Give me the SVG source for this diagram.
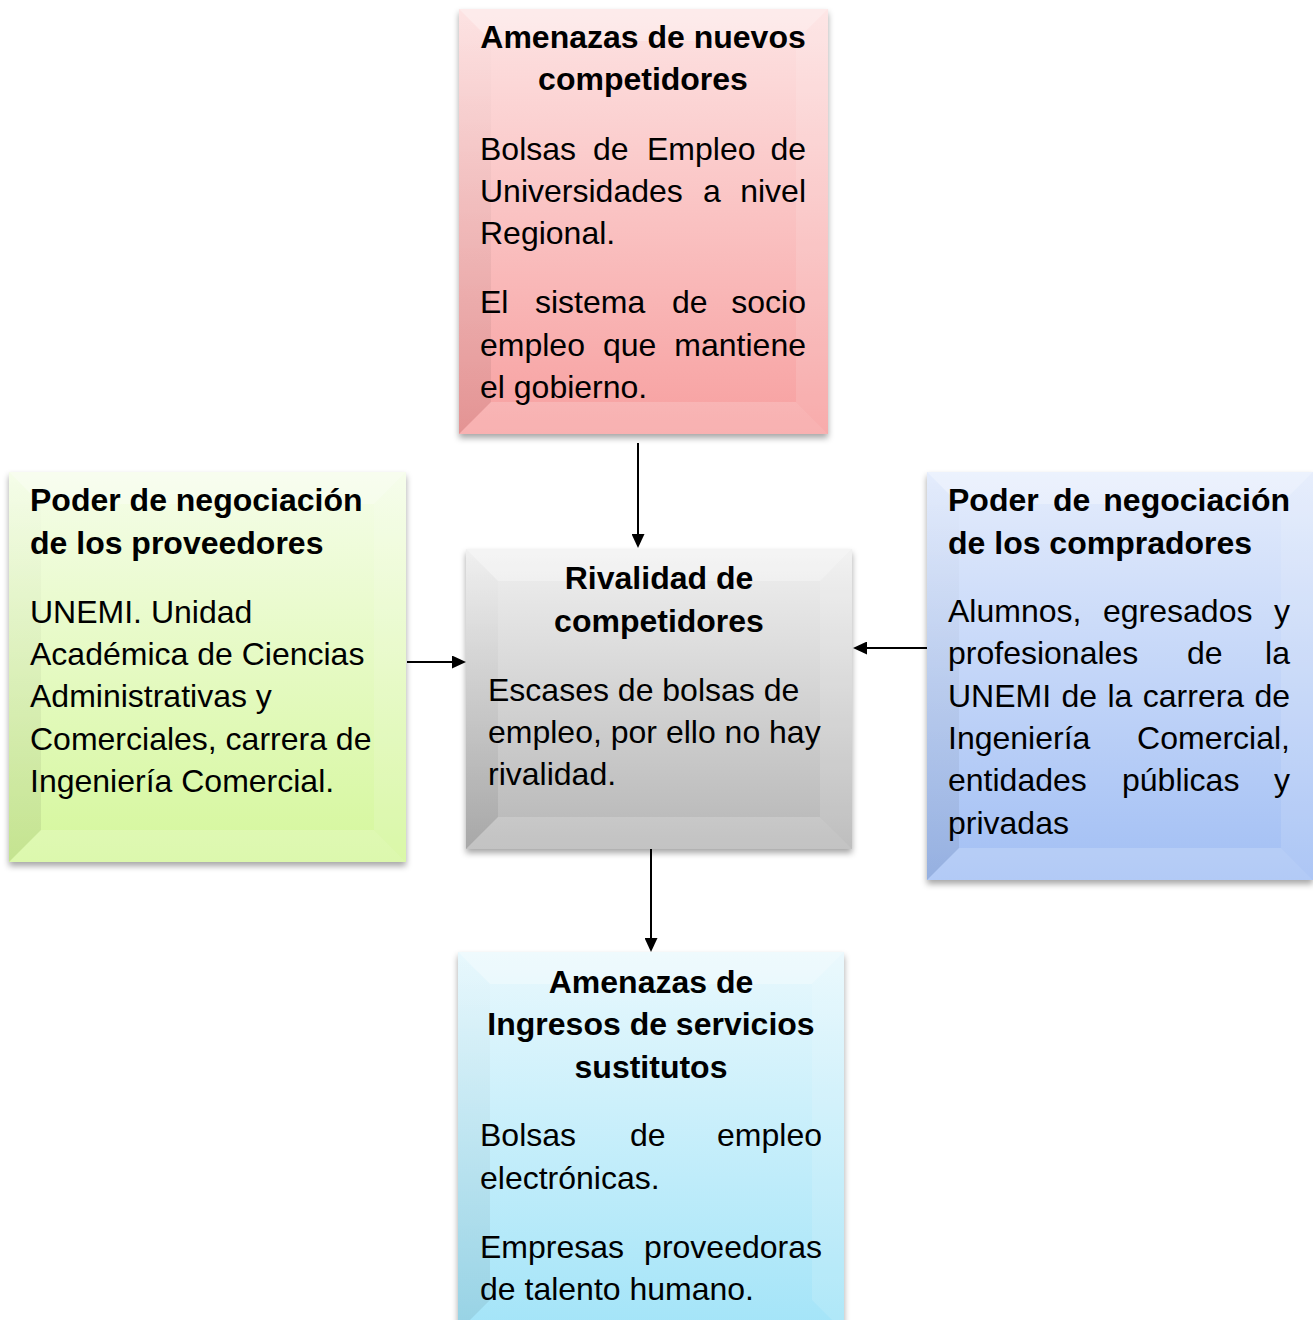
<svg xmlns="http://www.w3.org/2000/svg" width="1313" height="1320" viewBox="0 0 1313 1320">
<defs>
<linearGradient id="gRed" x1="0" y1="0" x2="0" y2="1"><stop offset="0" stop-color="#fde3e3"/><stop offset="1" stop-color="#f7a0a0"/></linearGradient>
<linearGradient id="gGreen" x1="0" y1="0" x2="0" y2="1"><stop offset="0" stop-color="#f5fde9"/><stop offset="1" stop-color="#d5f79c"/></linearGradient>
<linearGradient id="gGray" x1="0" y1="0" x2="0" y2="1"><stop offset="0" stop-color="#f0f0f0"/><stop offset="1" stop-color="#b6b6b6"/></linearGradient>
<linearGradient id="gBlue" x1="0" y1="0" x2="0" y2="1"><stop offset="0" stop-color="#e4ecfc"/><stop offset="1" stop-color="#a2bff4"/></linearGradient>
<linearGradient id="gCyan" x1="0" y1="0" x2="0" y2="1"><stop offset="0" stop-color="#e8f8fd"/><stop offset="1" stop-color="#a3e4f8"/></linearGradient>
<linearGradient id="gLeft" x1="0" y1="0" x2="0" y2="1"><stop offset="0" stop-color="#000" stop-opacity="0"/><stop offset="1" stop-color="#000" stop-opacity="0.08"/></linearGradient>
<filter id="shadow" x="-5%" y="-5%" width="110%" height="112%">
<feDropShadow dx="0" dy="4" stdDeviation="3" flood-color="#000" flood-opacity="0.35"/>
</filter>
<marker id="arrow" viewBox="0 0 14 13" refX="4" refY="6.5" markerWidth="14" markerHeight="13" markerUnits="userSpaceOnUse" orient="auto">
<path d="M0,0 L14,6.5 L0,13 Z" fill="#000"/>
</marker>
</defs>
<style>
.box{filter:url(#shadow);}
.bt{fill:#fff;fill-opacity:0.3;}
.bl{fill:url(#gLeft);}
.br{fill:#fff;fill-opacity:0.12;}
.bb{fill:#fff;fill-opacity:0.18;}
text{font-family:"Liberation Sans",Arial,sans-serif;font-size:32px;fill:#000;}
.h{font-weight:bold;}
.c{text-anchor:middle;}
.e{text-anchor:end;}
.conn{stroke:#000;stroke-width:2;fill:none;marker-end:url(#arrow);}
</style>

<g id="connectors">
<line class="conn" x1="638" y1="443" x2="638" y2="538"/>
<line class="conn" x1="407" y1="662" x2="456" y2="662"/>
<line class="conn" x1="927" y1="648" x2="863" y2="648"/>
<line class="conn" x1="651" y1="849" x2="651" y2="942"/>
</g>

<g id="node-nuevos">
<rect class="box" x="459" y="9" width="369" height="425" fill="url(#gRed)"/>
<polygon class="bt" points="459,9 828,9 796,41 491,41"/>
<polygon class="bl" points="459,9 491,41 491,402 459,434"/>
<polygon class="br" points="828,9 828,434 796,402 796,41"/>
<polygon class="bb" points="459,434 491,402 796,402 828,434"/>
<text class="h c" x="643" y="48">Amenazas de nuevos</text>
<text class="h c" x="643" y="90">competidores</text>
<text x="480" y="160">Bolsas</text><text x="593" y="160">de</text><text x="647" y="160">Empleo</text><text class="e" x="806" y="160">de</text>
<text x="480" y="202">Universidades</text><text x="703" y="202">a</text><text class="e" x="806" y="202">nivel</text>
<text x="480" y="244">Regional.</text>
<text x="480" y="313">El</text><text x="535" y="313">sistema</text><text x="672" y="313">de</text><text class="e" x="806" y="313">socio</text>
<text x="480" y="356">empleo</text><text x="603" y="356">que</text><text class="e" x="806" y="356">mantiene</text>
<text x="480" y="398">el gobierno.</text>
</g>

<g id="node-proveedores">
<rect class="box" x="9" y="472" width="397" height="390" fill="url(#gGreen)"/>
<polygon class="bt" points="9,472 406,472 374,504 41,504"/>
<polygon class="bl" points="9,472 41,504 41,830 9,862"/>
<polygon class="br" points="406,472 406,862 374,830 374,504"/>
<polygon class="bb" points="9,862 41,830 374,830 406,862"/>
<text class="h" x="30" y="511">Poder de negociación</text>
<text class="h" x="30" y="554">de los proveedores</text>
<text x="30" y="623">UNEMI. Unidad</text>
<text x="30" y="665">Académica de Ciencias</text>
<text x="30" y="707">Administrativas y</text>
<text x="30" y="750">Comerciales, carrera de</text>
<text x="30" y="792">Ingeniería Comercial.</text>
</g>

<g id="node-rivalidad">
<rect class="box" x="466" y="549" width="386" height="300" fill="url(#gGray)"/>
<polygon class="bt" points="466,549 852,549 820,581 498,581"/>
<polygon class="bl" points="466,549 498,581 498,817 466,849"/>
<polygon class="br" points="852,549 852,849 820,817 820,581"/>
<polygon class="bb" points="466,849 498,817 820,817 852,849"/>
<text class="h c" x="659" y="589">Rivalidad de</text>
<text class="h c" x="659" y="632">competidores</text>
<text x="488" y="701">Escases de bolsas de</text>
<text x="488" y="743">empleo, por ello no hay</text>
<text x="488" y="785">rivalidad.</text>
</g>

<g id="node-compradores">
<rect class="box" x="927" y="472" width="386" height="408" fill="url(#gBlue)"/>
<polygon class="bt" points="927,472 1313,472 1281,504 959,504"/>
<polygon class="bl" points="927,472 959,504 959,848 927,880"/>
<polygon class="br" points="1313,472 1313,880 1281,848 1281,504"/>
<polygon class="bb" points="927,880 959,848 1281,848 1313,880"/>
<text class="h" x="948" y="511">Poder</text><text class="h" x="1053" y="511">de</text><text class="h e" x="1290" y="511">negociación</text>
<text class="h" x="948" y="554">de los compradores</text>
<text x="948" y="622">Alumnos,</text><text x="1103" y="622">egresados</text><text class="e" x="1290" y="622">y</text>
<text x="948" y="664">profesionales</text><text x="1187" y="664">de</text><text class="e" x="1290" y="664">la</text>
<text x="948" y="707" word-spacing="1.5">UNEMI de la carrera de</text>
<text x="948" y="749">Ingeniería</text><text class="e" x="1290" y="749">Comercial,</text>
<text x="948" y="791">entidades</text><text x="1122" y="791">públicas</text><text class="e" x="1290" y="791">y</text>
<text x="948" y="834">privadas</text>
</g>

<g id="node-sustitutos">
<rect class="box" x="458" y="952" width="386" height="380" fill="url(#gCyan)"/>
<polygon class="bt" points="458,952 844,952 812,984 490,984"/>
<polygon class="bl" points="458,952 490,984 490,1300 458,1332"/>
<polygon class="br" points="844,952 844,1332 812,1300 812,984"/>
<text class="h c" x="651" y="993">Amenazas de</text>
<text class="h c" x="651" y="1035">Ingresos de servicios</text>
<text class="h c" x="651" y="1078">sustitutos</text>
<text x="480" y="1146">Bolsas</text><text x="630" y="1146">de</text><text class="e" x="822" y="1146">empleo</text>
<text x="480" y="1189">electrónicas.</text>
<text x="480" y="1258">Empresas</text><text class="e" x="822" y="1258">proveedoras</text>
<text x="480" y="1300">de talento humano.</text>
</g>
</svg>
